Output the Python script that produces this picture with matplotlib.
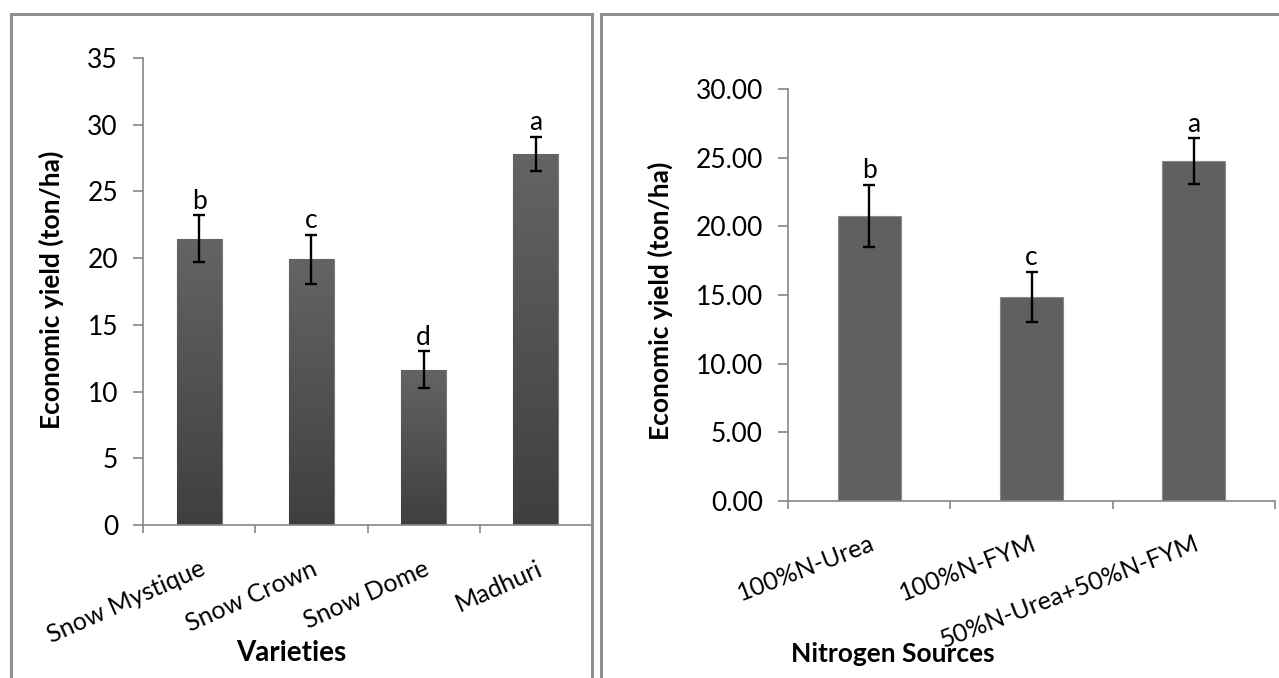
import matplotlib
matplotlib.use("Agg")
import matplotlib.pyplot as plt
import numpy as np
from matplotlib.lines import Line2D
from matplotlib.colors import LinearSegmentedColormap

# ---- data ----
varieties = ["Snow Mystique", "Snow Crown", "Snow Dome", "Madhuri"]
var_yield = [21.45, 19.9, 11.65, 27.83]
var_err = [1.75, 1.85, 1.37, 1.27]
var_letters = ["b", "c", "d", "a"]

sources = ["100%N-Urea", "100%N-FYM", "50%N-Urea+50%N-FYM"]
src_yield = [20.77, 14.86, 24.76]
src_err = [2.25, 1.84, 1.66]
src_letters = ["b", "c", "a"]

left_yticks = [0, 5, 10, 15, 20, 25, 30, 35]
right_yticks = [0, 5, 10, 15, 20, 25, 30]

plt.rcParams['font.family'] = ['Lato', 'DejaVu Sans']

W, H = 1279, 678
fig = plt.figure(figsize=(W / 100, H / 100), dpi=100)

def fx(px):
    return px / W

def fy(py):
    return 1 - py / H

axis_col = "#868686"
frame_col = "#8f8f8f"

# frames
for xs, ys in [([11, 11], [14, 800]), ([11, 592], [14, 14]), ([592, 592], [14, 800]),
               ([601, 601], [14, 800]), ([601, 1400], [14, 14])]:
    fig.add_artist(Line2D([fx(xs[0]), fx(xs[1])], [fy(ys[0]), fy(ys[1])], color=frame_col,
                          lw=2.2, transform=fig.transFigure))

def style_axes(ax, xpad):
    for s in ["top", "right"]:
        ax.spines[s].set_visible(False)
    for s in ["left", "bottom"]:
        ax.spines[s].set_color(axis_col)
        ax.spines[s].set_linewidth(1.2)
    ax.tick_params(axis="y", direction="out", length=7, width=1.2, color=axis_col,
                   labelsize=19, pad=11, labelcolor="black")
    ax.tick_params(axis="x", which="major", length=0, labelsize=18, pad=xpad)
    ax.tick_params(axis="x", which="minor", direction="out", length=6, width=1.2, color=axis_col)

# ---- left chart ----
axL = fig.add_axes([fx(143), fy(525), fx(592) - fx(143), fy(58) - fy(525)])
xL = np.arange(len(varieties))
barsL = axL.bar(xL, var_yield, width=0.4, color="#555555", edgecolor="#7a7a7a", linewidth=0.8, zorder=2)
grad = np.linspace(0, 1, 256).reshape(-1, 1)
cmap = LinearSegmentedColormap.from_list("g", ["#3f3f3f", "#646464"])
for b in barsL:
    x0, w, h = b.get_x(), b.get_width(), b.get_height()
    im = axL.imshow(grad, extent=[x0, x0 + w, 0, h], origin="lower", cmap=cmap,
                    aspect="auto", zorder=2.5, interpolation="bilinear")
    im.set_clip_path(b)
axL.errorbar(xL, var_yield, yerr=var_err, fmt="none", ecolor="black", elinewidth=1.7,
             capsize=4.5, capthick=1.7, zorder=3)
for xi, v, e, t in zip(xL, var_yield, var_err, var_letters):
    axL.annotate(t, (xi, v + e), xytext=(0, 1), textcoords="offset points",
                 ha="center", va="bottom", fontsize=19)
axL.set_xlim(-0.5, len(varieties) - 0.5)
axL.set_ylim(0, 35)
axL.set_yticks(left_yticks)
axL.set_yticklabels([str(v) for v in left_yticks])
axL.set_xticks(xL)
axL.set_xticks(np.arange(-0.5, len(varieties)), minor=True)
axL.set_xticklabels(varieties, rotation=24, ha="right", va="top", rotation_mode="anchor")
style_axes(axL, xpad=23)

fig.text(fx(51), fy(290), "Economic yield (ton/ha)", rotation=90, ha="center", va="center",
         fontsize=19, fontweight="bold")
fig.text(fx(291), fy(653), "Varieties", ha="center", va="center", fontsize=20, fontweight="bold")

# ---- right chart ----
axR = fig.add_axes([fx(788), fy(501), fx(1275) - fx(788), fy(89) - fy(501)])
xR = np.arange(len(sources))
axR.bar(xR, src_yield, width=0.39, color="#606060", edgecolor="#8a8a8a", linewidth=0.8, zorder=2)
axR.errorbar(xR, src_yield, yerr=src_err, fmt="none", ecolor="black", elinewidth=1.7,
             capsize=4.5, capthick=1.7, zorder=3)
for xi, v, e, t in zip(xR, src_yield, src_err, src_letters):
    axR.annotate(t, (xi, v + e), xytext=(0, 1), textcoords="offset points",
                 ha="center", va="bottom", fontsize=19)
axR.set_xlim(-0.5, len(sources) - 0.5)
axR.set_ylim(0, 30)
axR.set_yticks(right_yticks)
axR.set_yticklabels(["%.2f" % v for v in right_yticks])
axR.set_xticks(xR)
axR.set_xticks(np.arange(-0.5, len(sources)), minor=True)
axR.set_xticklabels(sources, rotation=21, ha="right", va="top", rotation_mode="anchor")
style_axes(axR, xpad=22)

fig.text(fx(660), fy(301), "Economic yield (ton/ha)", rotation=90, ha="center", va="center",
         fontsize=19, fontweight="bold")
fig.text(fx(893), fy(654), "Nitrogen Sources", ha="center", va="center", fontsize=19, fontweight="bold")

fig.savefig("out.png", dpi=100, facecolor="white")
